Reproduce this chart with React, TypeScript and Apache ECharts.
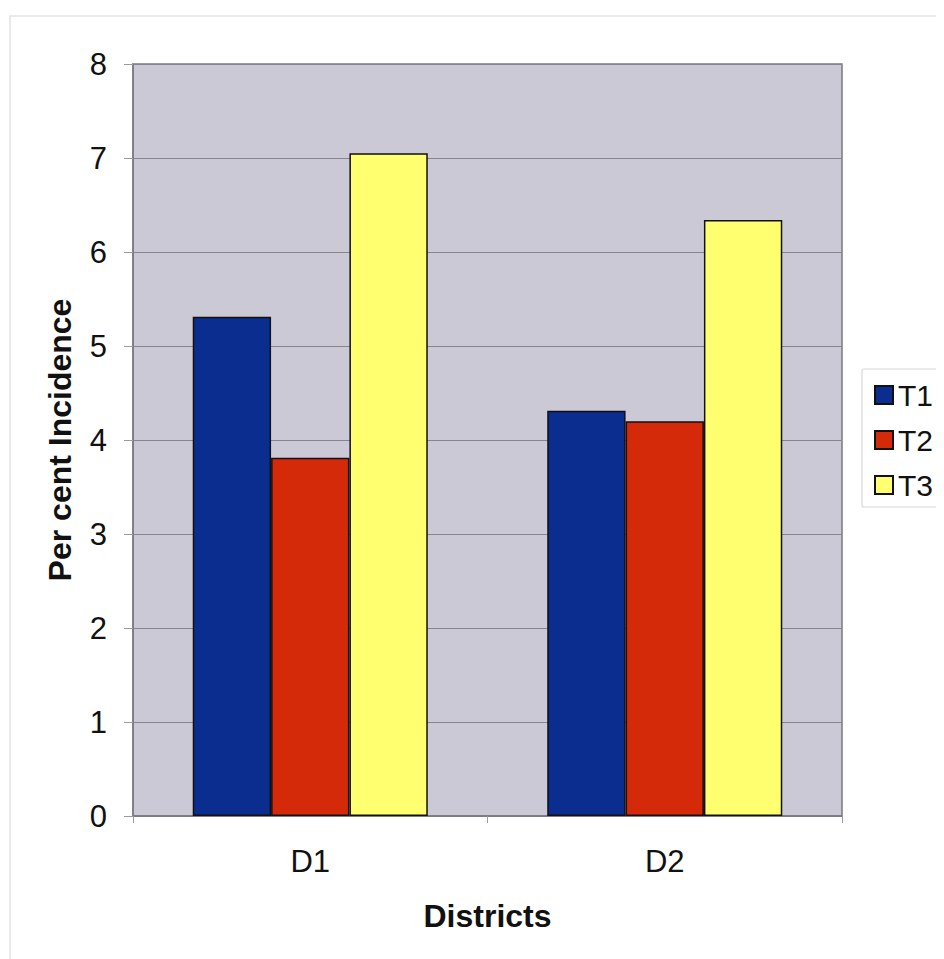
import React, { useEffect, useRef } from "react";
import * as echarts from "echarts";

const districts = ["D1", "D2"];
const seriesNames = ["T1", "T2", "T3"];
const t1Values = [5.31, 4.31];
const t2Values = [3.81, 4.2];
const t3Values = [7.05, 6.34];
const yTicks = [0, 1, 2, 3, 4, 5, 6, 7, 8];

const colors = ["#0a2d8f", "#d42a0a", "#ffff70"];

export default function App() {
  const ref = useRef<HTMLDivElement>(null);

  useEffect(() => {
    if (!ref.current) return;
    const chart = echarts.init(ref.current, undefined, { renderer: "svg" });
    const font = "'Liberation Sans', Arial, sans-serif";
    const values = [t1Values, t2Values, t3Values];

    chart.setOption({
      animation: false,
      backgroundColor: "#ffffff",
      textStyle: { fontFamily: font },
      graphic: [
        {
          type: "rect",
          shape: { x: 2, y: 8, width: 960, height: 960 },
          style: { fill: "none", stroke: "#e4e4e4", lineWidth: 1.5 },
          z: -1,
        },
        {
          type: "rect",
          shape: { x: 854, y: 361, width: 100, height: 138, r: 2 },
          style: { fill: "#ffffff", stroke: "#d8d8d8", lineWidth: 1.2 },
          z: 0,
        },
      ],
      grid: {
        left: 125,
        right: 102,
        top: 56,
        bottom: 143,
        show: true,
        backgroundColor: "#ccc9d7",
        borderColor: "#7a7a80",
        borderWidth: 1.5,
      },
      legend: {
        orient: "vertical",
        left: 861,
        top: 367,
        itemWidth: 18,
        itemHeight: 18,
        itemGap: 15,
        data: seriesNames,
        icon: "rect",
        textStyle: { fontSize: 30, color: "#111", fontFamily: font },
      },
      xAxis: {
        type: "category",
        data: districts,
        name: "Districts",
        nameLocation: "middle",
        nameGap: 84,
        nameTextStyle: { fontSize: 32, fontWeight: "bold", color: "#111", fontFamily: font },
        axisLine: { show: true, lineStyle: { color: "#7a7a80", width: 1.5 } },
        axisTick: { show: true, length: 7, lineStyle: { color: "#9a9aa0" } },
        axisLabel: { fontSize: 31, color: "#111", margin: 30, fontFamily: font },
        splitLine: { show: false },
      },
      yAxis: {
        type: "value",
        min: 0,
        max: 8,
        interval: 1,
        name: "Per cent Incidence",
        nameLocation: "middle",
        nameGap: 57,
        nameRotate: 90,
        nameTextStyle: { fontSize: 32, fontWeight: "bold", color: "#111", fontFamily: font },
        axisLine: { show: true, lineStyle: { color: "#7a7a80", width: 1.5 } },
        axisTick: { show: true, length: 9, lineStyle: { color: "#9a9aa0" } },
        axisLabel: {
          fontSize: 31,
          color: "#111",
          margin: 26,
          fontFamily: font,
          formatter: (v: number) => (yTicks.includes(v) ? String(v) : ""),
        },
        splitLine: { show: true, lineStyle: { color: "#86848c", width: 1 } },
      },
      series: seriesNames.map((name, i) => ({
        name,
        type: "bar",
        data: values[i],
        barGap: "0%",
        barCategoryGap: "33.7%",
        itemStyle: { color: colors[i], borderColor: "#111", borderWidth: 1.5 },
      })),
    });

    return () => chart.dispose();
  }, []);

  return <div ref={ref} style={{ width: 936, height: 951 }} />;
}
